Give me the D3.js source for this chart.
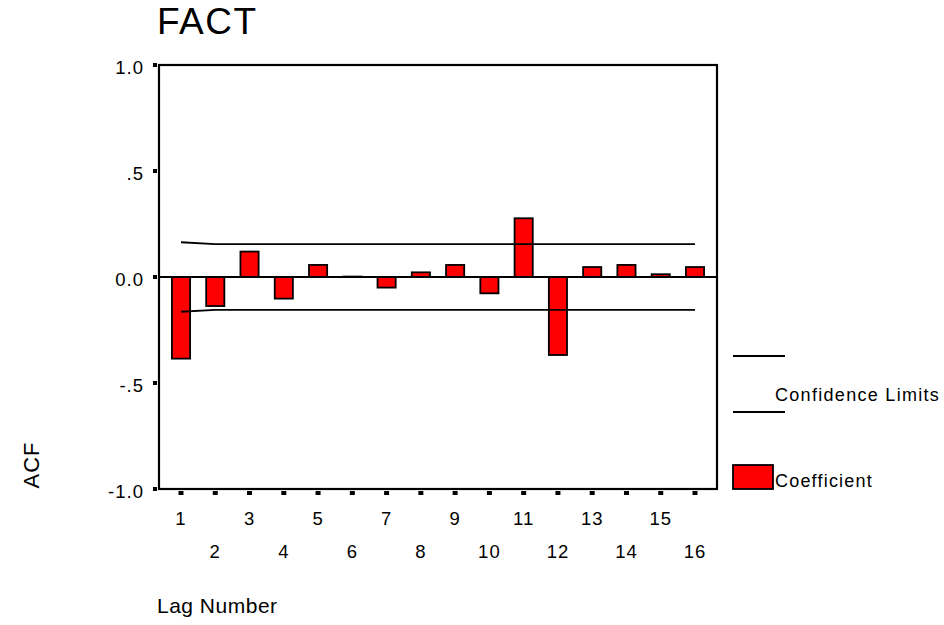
<!DOCTYPE html>
<html>
<head>
<meta charset="utf-8">
<script src="https://cdn.jsdelivr.net/npm/d3@7/dist/d3.min.js"></script>
<style>
  html, body { margin: 0; padding: 0; background: #fff; }
  svg { display: block; }
  text { font-family: "Liberation Sans", Arial, sans-serif; fill: #000; }
</style>
</head>
<body>
<svg id="chart" width="944" height="625"></svg>
<script>
// ---- data ----
const lags = [1, 2, 3, 4, 5, 6, 7, 8, 9, 10, 11, 12, 13, 14, 15, 16];
const acf = [-0.385, -0.137, 0.120, -0.102, 0.057, 0.002, -0.050, 0.022,
             0.057, -0.077, 0.277, -0.368, 0.047, 0.057, 0.013, 0.047];
const upperLimit = [0.164, 0.155, 0.155, 0.155, 0.155, 0.155, 0.155, 0.155,
                    0.155, 0.155, 0.155, 0.155, 0.155, 0.155, 0.155, 0.155];
const lowerLimit = [-0.164, -0.155, -0.155, -0.155, -0.155, -0.155, -0.155, -0.155,
                    -0.155, -0.155, -0.155, -0.155, -0.155, -0.155, -0.155, -0.155];
const yTicks = [-1.0, -0.5, 0.0, 0.5, 1.0];
const yTickLabels = ["-1.0", "-.5", "0.0", ".5", "1.0"];
const title = "FACT";
const xTitle = "Lag Number";
const yTitle = "ACF";
const legendLimits = "Confidence Limits";
const legendCoef = "Coefficient";

// ---- layout ----
const L = 159, R = 717, T = 65, B = 489;
const svg = d3.select("#chart");

const x = d3.scaleLinear().domain([0.358, 16.642]).range([L, R]);
const y = d3.scaleLinear().domain([-1, 1]).range([B, T]);
const step = x(2) - x(1);
const bw = step * 0.53;

// title
svg.append("text").attr("x", 157).attr("y", 34)
  .style("font-size", "37px").style("letter-spacing", "1.5px").text(title);

// bars
svg.append("g").selectAll("rect").data(lags).join("rect")
  .attr("x", (d) => x(d) - bw / 2)
  .attr("y", (d, i) => y(Math.max(0, acf[i])))
  .attr("width", bw)
  .attr("height", (d, i) => Math.abs(y(acf[i]) - y(0)))
  .attr("fill", "#ff0000")
  .attr("stroke", "#000")
  .attr("stroke-width", 1.8);

// zero line
svg.append("line").attr("x1", L).attr("x2", R).attr("y1", y(0)).attr("y2", y(0))
  .attr("stroke", "#000").attr("stroke-width", 1.8);

// confidence limits
const line = d3.line().x((d) => x(d[0])).y((d) => y(d[1]));
[upperLimit, lowerLimit].forEach((arr) => {
  svg.append("path").datum(lags.map((l, i) => [l, arr[i]]))
    .attr("d", line).attr("fill", "none").attr("stroke", "#000").attr("stroke-width", 1.8);
});

// frame
svg.append("rect").attr("x", L).attr("y", T).attr("width", R - L).attr("height", B - T)
  .attr("fill", "none").attr("stroke", "#000").attr("stroke-width", 2.2);

// y ticks
const yt = svg.append("g");
yt.selectAll("rect").data(yTicks).join("rect")
  .attr("x", L - 6).attr("y", (d) => y(d) - 2).attr("width", 4).attr("height", 4).attr("fill", "#000");
yt.selectAll("text").data(yTicks).join("text")
  .attr("x", 144).attr("y", (d) => y(d) + 9)
  .attr("text-anchor", "end")
  .style("font-size", "18.5px").style("letter-spacing", "1px")
  .text((d, i) => yTickLabels[i]);

// x ticks
const xt = svg.append("g");
xt.selectAll("rect").data(lags).join("rect")
  .attr("x", (d) => x(d) - 2.5).attr("y", B + 2).attr("width", 5).attr("height", 4).attr("fill", "#000");
xt.selectAll("text").data(lags).join("text")
  .attr("x", (d) => x(d)).attr("y", (d) => (d % 2 === 1 ? 525 : 558))
  .attr("text-anchor", "middle")
  .style("font-size", "18.5px").style("letter-spacing", "1px")
  .text((d) => String(d));

// axis titles
svg.append("text").attr("x", 157).attr("y", 613)
  .style("font-size", "21px").style("letter-spacing", "0.5px").text(xTitle);
svg.append("text").attr("transform", "translate(39,465) rotate(-90)")
  .attr("text-anchor", "middle")
  .style("font-size", "22px").style("letter-spacing", "1px").text(yTitle);

// legend
svg.append("line").attr("x1", 733).attr("x2", 785).attr("y1", 356).attr("y2", 356)
  .attr("stroke", "#000").attr("stroke-width", 1.8);
svg.append("line").attr("x1", 733).attr("x2", 785).attr("y1", 412).attr("y2", 412)
  .attr("stroke", "#000").attr("stroke-width", 1.8);
svg.append("text").attr("x", 775).attr("y", 401)
  .style("font-size", "18px").style("letter-spacing", "1.3px").text(legendLimits);
svg.append("rect").attr("x", 733).attr("y", 465).attr("width", 40).attr("height", 24)
  .attr("fill", "#ff0000").attr("stroke", "#000").attr("stroke-width", 1.8);
svg.append("text").attr("x", 775).attr("y", 487)
  .style("font-size", "18px").style("letter-spacing", "1.2px").text(legendCoef);
</script>
</body>
</html>
